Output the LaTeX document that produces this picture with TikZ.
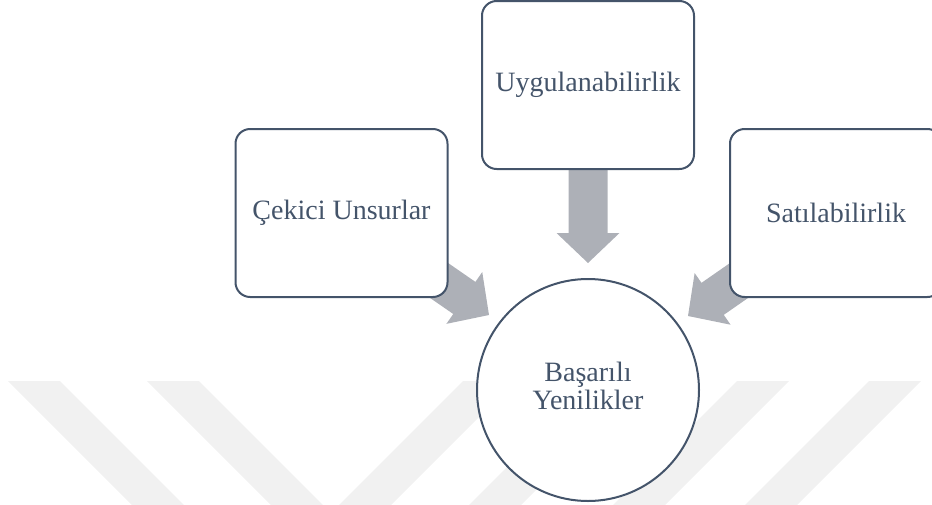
\documentclass[tikz,border=0pt]{standalone}
\usepackage{fontspec}
\setmainfont{Liberation Serif}
\usetikzlibrary{calc}
\definecolor{txt}{RGB}{68,84,106}
\definecolor{arrowgray}{RGB}{173,176,183}
\definecolor{wmgray}{RGB}{241,241,241}
\pgfdeclarelayer{wmlayer}
\pgfdeclarelayer{arrowlayer}
\pgfsetlayers{wmlayer,arrowlayer,main}
\newcommand{\blockarrow}[2]{%
  \path ($(#2)!22.5pt!(#1)$) coordinate (hb);
  \fill[arrowgray] ($(#1)!14.625pt!90:(#2)$) -- ($(hb)!14.625pt!90:(#2)$)
    -- ($(hb)!23.625pt!90:(#2)$) -- (#2) -- ($(hb)!23.625pt!-90:(#2)$)
    -- ($(hb)!14.625pt!-90:(#2)$) -- ($(#1)!14.625pt!-90:(#2)$) -- cycle;
}
\newcommand{\bandback}[1]{\fill[wmgray] (#1,381) -- ++(52,0) -- ++(139,139) -- ++(-52,0) -- cycle;}
\newcommand{\bandfwd}[1]{\fill[wmgray] (#1,381) -- ++(52,0) -- ++(-139,139) -- ++(-52,0) -- cycle;}
\begin{document}
\begin{tikzpicture}[x=0.75pt,y=-0.75pt,
  box/.style={draw=txt, line width=1.5pt, fill=white, rounded corners=11pt,
    minimum width=159pt, minimum height=126pt, inner sep=0pt, text=txt,
    font=\fontsize{21}{25}\selectfont},
  goal/.style={circle, draw=txt, line width=1.5pt, fill=white,
    minimum size=166.5pt, inner sep=0pt, text=txt,
    font=\fontsize{21}{21}\selectfont}]
\useasboundingbox (0,0) rectangle (932,504);
\node[box] (U) at (588,85) {Uygulanabilirlik};
\node[box] (L) at (341.5,213) {Çekici Unsurlar};
\node[box] (R) at (836,213) {Satılabilirlik};
\node[goal] (C) at (588,390) {\raisebox{3.5pt}{\begin{tabular}{@{}c@{}}Başarılı\\Yenilikler\end{tabular}}};
\coordinate (tU) at (588,263);
\coordinate (tL) at (489,315);
\coordinate (tR) at (688,316);
\begin{pgfonlayer}{arrowlayer}
  \blockarrow{U.center}{tU}
  \blockarrow{L.center}{tL}
  \blockarrow{R.center}{tR}
\end{pgfonlayer}
\begin{pgfonlayer}{wmlayer}
  \bandback{8}
  \bandback{147}
  \bandfwd{463}
  \bandfwd{593}
  \bandfwd{737}
  \bandfwd{869}
\end{pgfonlayer}
\end{tikzpicture}
\end{document}
